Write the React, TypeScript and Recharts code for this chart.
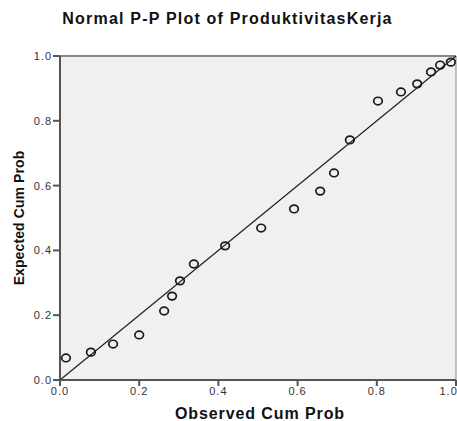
import React from 'react';
import { ScatterChart, Scatter, XAxis, YAxis, CartesianGrid, ReferenceLine, Label } from 'recharts';

const observedCumProb = [0.015, 0.078, 0.134, 0.2, 0.263, 0.283, 0.303, 0.338, 0.417, 0.508, 0.591, 0.657, 0.692, 0.732, 0.803, 0.861, 0.902, 0.937, 0.96, 0.987];
const expectedCumProb = [0.068, 0.086, 0.111, 0.139, 0.213, 0.259, 0.306, 0.358, 0.414, 0.469, 0.528, 0.583, 0.639, 0.741, 0.861, 0.889, 0.914, 0.951, 0.972, 0.981];
const axisTicks = [0, 0.2, 0.4, 0.6, 0.8, 1.0];
const title = 'Normal P-P Plot of ProduktivitasKerja';
const xTitle = 'Observed Cum Prob';
const yTitle = 'Expected Cum Prob';

const points = observedCumProb.map((x, i) => ({ x, y: expectedCumProb[i] }));

const FONT = '"Liberation Sans", Arial, sans-serif';

const Ring = (props: any) => {
  const { cx, cy } = props;
  return <ellipse cx={cx} cy={cy} rx={4.3} ry={3.8} fill="none" stroke="#1a1a1a" strokeWidth={1.7} />;
};

export default function App() {
  return (
    <div style={{ position: 'absolute', left: 0, top: 0, width: 457, height: 421, background: '#fff', fontFamily: FONT }}>
      <div style={{ position: 'absolute', left: 0, top: 10, width: 455, textAlign: 'center', fontWeight: 'bold', fontSize: 16, lineHeight: '18px', letterSpacing: 1.2, color: '#111' }}>
        {title}
      </div>
      <ScatterChart width={457} height={421} margin={{ top: 56, right: 1, left: 0, bottom: 21 }}>
        <CartesianGrid horizontal={false} vertical={false} fill="#f0f0f0" />
        <XAxis
          type="number"
          dataKey="x"
          domain={[0, 1]}
          ticks={axisTicks}
          tickFormatter={(v: number) => v.toFixed(1)}
          height={20}
          tickSize={6}
          tickMargin={1}
          stroke="#555"
          strokeWidth={2}
          tick={{ fill: '#333', fontSize: 11, fontFamily: FONT, letterSpacing: 1 }}
          allowDataOverflow
        >
          <Label value={xTitle} position="bottom" offset={8} dx={2} style={{ fontWeight: 'bold', fontSize: 16, letterSpacing: 0.9, fill: '#111', fontFamily: FONT }} />
        </XAxis>
        <YAxis
          type="number"
          dataKey="y"
          domain={[0, 1]}
          ticks={axisTicks}
          tickFormatter={(v: number) => v.toFixed(1)}
          width={60}
          tickSize={7}
          tickMargin={1}
          stroke="#555"
          strokeWidth={2}
          tick={{ fill: '#333', fontSize: 11, fontFamily: FONT, letterSpacing: 1 }}
          allowDataOverflow
        >
          <Label value={yTitle} angle={-90} position="insideLeft" offset={19} style={{ textAnchor: 'middle', fontWeight: 'bold', fontSize: 14, letterSpacing: 0.1, fill: '#111', fontFamily: FONT }} />
        </YAxis>
        <ReferenceLine y={1} stroke="#888" strokeWidth={2} />
        <ReferenceLine x={1} stroke="#888" strokeWidth={1} />
        <ReferenceLine segment={[{ x: 0, y: 0 }, { x: 1, y: 1 }]} stroke="#222" strokeWidth={1.2} />
        <Scatter data={points} shape={Ring} isAnimationActive={false} />
      </ScatterChart>
    </div>
  );
}
